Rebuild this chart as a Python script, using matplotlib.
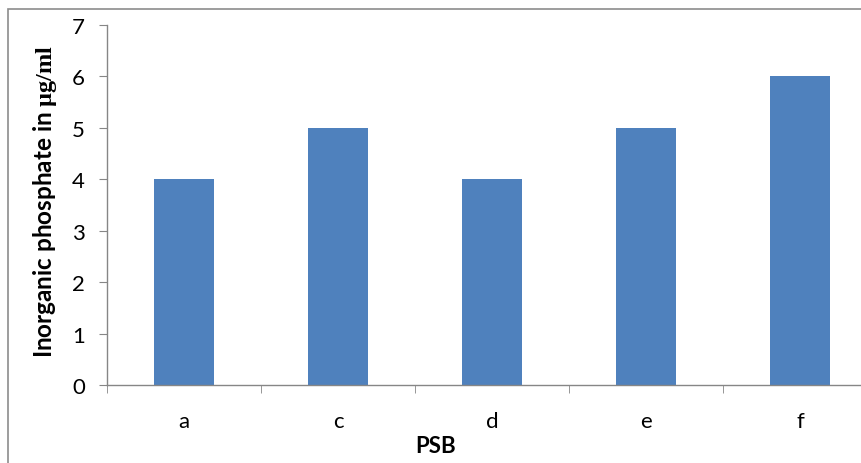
import matplotlib
matplotlib.use("Agg")
import matplotlib.pyplot as plt
from matplotlib.patches import Rectangle

plt.rcParams['font.family'] = ['Lato', 'DejaVu Sans']
plt.rcParams['mathtext.fontset'] = 'custom'
plt.rcParams['mathtext.bf'] = 'Liberation Serif:bold'
plt.rcParams['mathtext.rm'] = 'Liberation Serif'

# data
categories = ['a', 'c', 'd', 'e', 'f']
values = [4, 5, 4, 5, 6]
y_ticks = [0, 1, 2, 3, 4, 5, 6, 7]

bar_color = '#4F81BD'
axis_color = '#868686'

W, H = 862, 464
fig = plt.figure(figsize=(W / 100, H / 100), dpi=100)

# outer chart border (right/bottom edges fall outside the image)
fig.patches.append(Rectangle((8 / W, -0.1), 1.2, 1 - 10 / H + 0.1,
                             transform=fig.transFigure, fill=False,
                             edgecolor='#8c8c8c', linewidth=1.2))

ax = fig.add_axes([107 / W, (H - 386) / H, (W - 107) / W, 360 / H])
x = range(len(categories))
ax.bar(x, values, width=0.39, color=bar_color, zorder=2)

ax.set_yticks(y_ticks)
ax.set_xticks(list(x))
ax.set_xticklabels(categories)
ax.set_xticks([i + 0.5 for i in range(-1, len(categories))], minor=True)
# limits after the ticks, otherwise set_xticks widens the view
ax.set_ylim(0, 7)
ax.set_xlim(-0.5, -0.5 + (W - 107) / 154)

for s in ['top', 'right']:
    ax.spines[s].set_visible(False)
for s in ['left', 'bottom']:
    ax.spines[s].set_color(axis_color)
    ax.spines[s].set_linewidth(1.0)

ax.tick_params(axis='y', length=6, color=axis_color, labelsize=16, pad=10)
ax.tick_params(axis='x', which='major', length=0, labelsize=16, pad=19)
ax.tick_params(axis='x', which='minor', length=6, color=axis_color)

fig.text(45 / W, 1 - 201 / H, r'Inorganic phosphate in $\mathbf{µg/ml}$',
         rotation=90, ha='center', va='center', fontsize=17.5, fontweight='bold')
fig.text(436 / W, 1 - 447 / H, 'PSB', ha='center', va='center',
         fontsize=16, fontweight='bold')

fig.savefig('out.png', dpi=100)
